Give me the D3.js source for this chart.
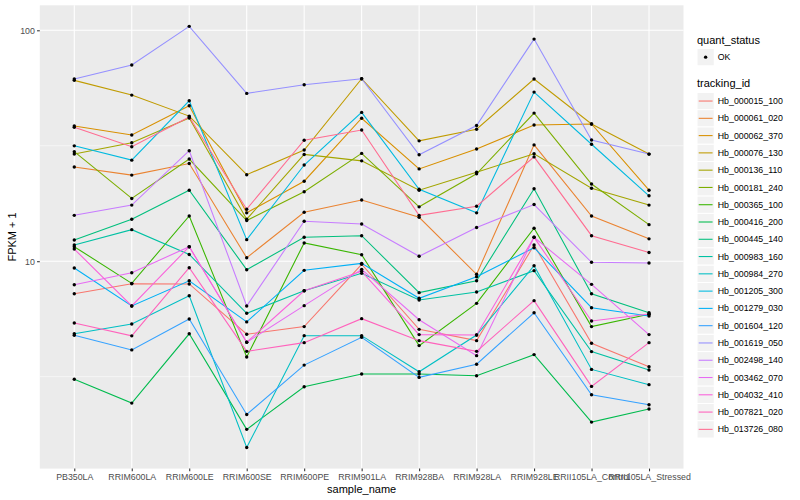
<!DOCTYPE html>
<html>
<head>
<meta charset="utf-8">
<script src="https://cdn.jsdelivr.net/npm/d3@7/dist/d3.min.js"></script>
<style>
  html, body { margin: 0; padding: 0; background: #ffffff; }
  svg { display: block; font-family: "Liberation Sans", Arial, Helvetica, sans-serif; }
</style>
</head>
<body>
<svg id="chart" width="800" height="500"></svg>
<script>
// ---- data ----
const samples = ["PB350LA", "RRIM600LA", "RRIM600LE", "RRIM600SE", "RRIM600PE", "RRIM901LA",
  "RRIM928BA", "RRIM928LA", "RRIM928LE", "RRII105LA_Control", "RRII105LA_Stressed"];

const trackingIds = ["Hb_000015_100", "Hb_000061_020", "Hb_000062_370", "Hb_000076_130",
  "Hb_000136_110", "Hb_000181_240", "Hb_000365_100", "Hb_000416_200", "Hb_000445_140",
  "Hb_000983_160", "Hb_000984_270", "Hb_001205_300", "Hb_001279_030", "Hb_001604_120",
  "Hb_001619_050", "Hb_002498_140", "Hb_003462_070", "Hb_004032_410", "Hb_007821_020",
  "Hb_013726_080"];

// FPKM + 1 per tracking id, in sample order
const hb000015 = [7.23, 7.99, 7.97, 4.83, 5.21, 9.70, 5.07, 4.53, 11.75, 4.41, 3.49];
const hb000061 = [25.6, 23.6, 26.5, 10.35, 16.3, 18.4, 15.5, 8.78, 31.9, 15.7, 12.5];
const hb000062 = [38.5, 35.2, 47.1, 16.2, 22.2, 41.6, 25.1, 30.6, 38.9, 39.3, 20.3];
const hb000076 = [60.7, 52.4, 42.5, 23.7, 30.3, 61.7, 33.2, 37.3, 61.5, 39.3, 29.1];
const hb000136 = [29.1, 32.6, 41.7, 15.2, 29.0, 27.2, 20.3, 24.3, 29.2, 20.7, 17.5];
const hb000181 = [29.8, 18.7, 27.7, 15.0, 20.0, 29.3, 17.2, 23.9, 43.8, 21.6, 14.4];
const hb000365 = [11.56, 8.02, 15.7, 3.85, 12.0, 10.67, 4.31, 6.57, 13.9, 5.21, 5.89];
const hb000416 = [3.08, 2.43, 4.85, 1.87, 2.86, 3.25, 3.25, 3.19, 3.94, 2.01, 2.29];
const hb000445 = [12.35, 15.2, 20.3, 9.19, 12.69, 12.9, 7.31, 8.23, 20.6, 7.23, 5.98];
const hb000983 = [11.75, 13.7, 10.7, 5.95, 7.45, 8.86, 6.79, 7.36, 9.10, 4.06, 3.38];
const hb000984 = [4.85, 5.35, 7.09, 1.56, 4.76, 4.76, 3.32, 4.79, 9.56, 3.40, 2.92];
const hb001205 = [31.6, 27.4, 49.5, 12.4, 26.1, 44.1, 20.5, 16.2, 54.0, 32.1, 19.2];
const hb001279 = [9.35, 6.40, 8.23, 5.46, 9.13, 9.79, 6.91, 8.57, 11.44, 6.29, 5.79];
const hb001604 = [4.78, 4.13, 5.62, 2.17, 3.55, 4.68, 3.14, 3.58, 5.98, 2.64, 2.39];
const hb001619 = [61.5, 70.7, 104, 53.3, 58.1, 61.7, 28.9, 38.7, 91.6, 33.5, 29.1];
const hb002498 = [15.8, 17.5, 30.1, 6.40, 14.9, 14.5, 10.5, 14.0, 17.6, 9.89, 9.82];
const hb003462 = [7.91, 8.92, 11.56, 4.46, 6.42, 9.22, 5.58, 3.90, 12.69, 7.94, 4.81];
const hb004032 = [11.29, 6.40, 11.56, 4.46, 7.45, 9.04, 4.81, 4.79, 12.69, 5.51, 5.91];
const hb007821 = [5.40, 4.75, 9.37, 4.07, 4.44, 5.64, 4.53, 4.07, 6.75, 2.87, 4.44];
const hb013726 = [38.0, 31.3, 42.1, 16.8, 33.4, 37.0, 15.8, 17.3, 28.3, 12.9, 10.9];

const seriesValues = [hb000015, hb000061, hb000062, hb000076, hb000136, hb000181, hb000365,
  hb000416, hb000445, hb000983, hb000984, hb001205, hb001279, hb001604, hb001619, hb002498,
  hb003462, hb004032, hb007821, hb013726];

const yTickValues = [10, 100];
const yTickLabels = ["10", "100"];
const quantStatus = ["OK"];

// ---- style ----
const palette = ["#F8766D", "#EA8331", "#D89000", "#C09B00", "#A3A500", "#7CAE00", "#39B600",
  "#00BB4E", "#00BF7D", "#00C1A3", "#00BFC4", "#00BAE0", "#00B0F6", "#35A2FF", "#9590FF",
  "#C77CFF", "#E76BF3", "#FA62DB", "#FF62BC", "#FF6C91"];

const panel = { left: 39.8, right: 683.5, top: 5.3, bottom: 468.6 };

const series = trackingIds.map((id, i) => ({
  id, color: palette[i],
  values: samples.map((s, j) => ({ sample: s, value: seriesValues[i][j] }))
}));

const svg = d3.select("#chart");

// scales
const x = d3.scalePoint().domain(samples).range([panel.left, panel.right]).padding(0.6);
const allVals = seriesValues.flat();
const lmin = Math.log10(d3.min(allVals)), lmax = Math.log10(d3.max(allVals));
const ex = (lmax - lmin) * 0.05;
const y = d3.scaleLog().domain([Math.pow(10, lmin - ex), Math.pow(10, lmax + ex)])
  .range([panel.bottom, panel.top]);

// panel background
svg.append("rect").attr("x", panel.left).attr("y", panel.top)
  .attr("width", panel.right - panel.left).attr("height", panel.bottom - panel.top)
  .attr("fill", "#EBEBEB");

// minor gridlines (midpoints in log space)
const minorBreaks = [Math.pow(10, 0.5), Math.pow(10, 1.5)];
svg.append("g").selectAll("line").data(minorBreaks).join("line")
  .attr("x1", panel.left).attr("x2", panel.right)
  .attr("y1", d => y(d)).attr("y2", d => y(d))
  .attr("stroke", "#ffffff").attr("stroke-width", 0.53);

// major gridlines
svg.append("g").selectAll("line").data(yTickValues).join("line")
  .attr("x1", panel.left).attr("x2", panel.right)
  .attr("y1", d => y(d)).attr("y2", d => y(d))
  .attr("stroke", "#ffffff").attr("stroke-width", 1.07);
svg.append("g").selectAll("line").data(samples).join("line")
  .attr("x1", d => x(d)).attr("x2", d => x(d))
  .attr("y1", panel.top).attr("y2", panel.bottom)
  .attr("stroke", "#ffffff").attr("stroke-width", 1.07);

// lines
const line = d3.line().x(d => x(d.sample)).y(d => y(d.value));
svg.append("g").selectAll("path").data(series).join("path")
  .attr("d", d => line(d.values))
  .attr("fill", "none").attr("stroke", d => d.color).attr("stroke-width", 1.07);

// points
svg.append("g").selectAll("g").data(series).join("g")
  .selectAll("circle").data(d => d.values).join("circle")
  .attr("cx", d => x(d.sample)).attr("cy", d => y(d.value)).attr("r", 1.7)
  .attr("fill", "#000000");

// axes
const xAxis = d3.axisBottom(x).tickSize(2.74).tickPadding(2.5);
const gx = svg.append("g").attr("transform", `translate(0,${panel.bottom})`).call(xAxis);
gx.select(".domain").remove();
gx.selectAll(".tick line").attr("stroke", "#333333").attr("stroke-width", 1.07);
gx.selectAll(".tick text").attr("fill", "#4D4D4D").style("font-size", "8.8px")
  .style("font-family", "'Liberation Sans', Arial, sans-serif");

const yAxis = d3.axisLeft(y).tickValues(yTickValues)
  .tickFormat((d, i) => yTickLabels[i]).tickSize(2.74).tickPadding(2.2);
const gy = svg.append("g").attr("transform", `translate(${panel.left},0)`).call(yAxis);
gy.select(".domain").remove();
gy.selectAll(".tick line").attr("stroke", "#333333").attr("stroke-width", 1.07);
gy.selectAll(".tick text").attr("fill", "#4D4D4D").style("font-size", "8.8px")
  .style("font-family", "'Liberation Sans', Arial, sans-serif");

// axis titles
svg.append("text").attr("x", (panel.left + panel.right) / 2).attr("y", 493)
  .attr("text-anchor", "middle").attr("font-size", 11).attr("fill", "#000")
  .text("sample_name");
svg.append("text").attr("transform", `translate(15.5,${(panel.top + panel.bottom) / 2}) rotate(-90)`)
  .attr("text-anchor", "middle").attr("font-size", 11).attr("fill", "#000")
  .text("FPKM + 1");

// legends
const lgX = 697, keyW = 17.28, keyH = 17.28;
const lg = svg.append("g");
lg.append("text").attr("x", lgX).attr("y", 44).attr("font-size", 11).text("quant_status");
const qs = lg.selectAll("g.qs").data(quantStatus).join("g").attr("class", "qs")
  .attr("transform", (d, i) => `translate(${lgX},${48.5 + i * keyH})`);
qs.append("rect").attr("width", keyW).attr("height", keyH)
  .attr("fill", "#F2F2F2").attr("stroke", "#ffffff").attr("stroke-width", 1);
qs.append("circle").attr("cx", keyW / 2).attr("cy", keyH / 2).attr("r", 1.7).attr("fill", "#000");
qs.append("text").attr("x", keyW + 3.5).attr("y", keyH / 2 + 3.1)
  .attr("font-size", 8.8).attr("fill", "#000").text(d => d);

lg.append("text").attr("x", lgX).attr("y", 87.3).attr("font-size", 11).text("tracking_id");
const tk = lg.selectAll("g.tk").data(series).join("g").attr("class", "tk")
  .attr("transform", (d, i) => `translate(${lgX},${92.4 + i * keyH})`);
tk.append("rect").attr("width", keyW).attr("height", keyH)
  .attr("fill", "#F2F2F2").attr("stroke", "#ffffff").attr("stroke-width", 1);
tk.append("line").attr("x1", 1.7).attr("x2", keyW - 1.7)
  .attr("y1", keyH / 2).attr("y2", keyH / 2)
  .attr("stroke", d => d.color).attr("stroke-width", 1.07);
tk.append("text").attr("x", keyW + 3.5).attr("y", keyH / 2 + 3.1)
  .attr("font-size", 8.8).attr("fill", "#000").text(d => d.id);
</script>
</body>
</html>
